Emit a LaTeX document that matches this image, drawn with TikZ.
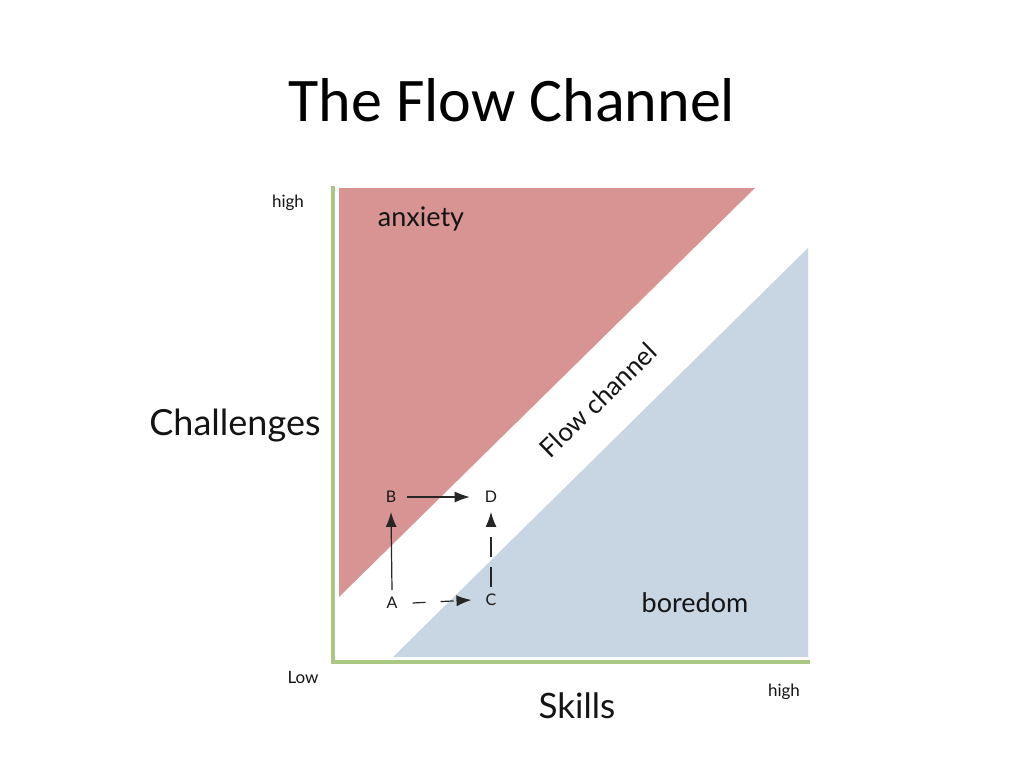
\documentclass[tikz,border=0pt]{standalone}
\usepackage{fontspec}
\setmainfont{Lato}
\newfontfamily\titlefont{Carlito}
\usetikzlibrary{arrows.meta}
\definecolor{anx}{RGB}{216,148,146}
\definecolor{bor}{RGB}{200,213,227}
\definecolor{axg}{RGB}{170,200,130}
\begin{document}
\begin{tikzpicture}[x=1pt,y=-1pt,
  lbl/.style={inner sep=0pt,text=black!92},
  pt/.style={inner sep=1pt,font=\fontsize{16}{16}\selectfont,text=black!90},
  arr/.style={-{Latex[length=15pt,width=11pt]},line width=1.2pt,black!85},
  axis/.style={axg,line width=4pt}]
\useasboundingbox (0,0) rectangle (1024,768);
\fill[white] (0,0) rectangle (1024,768);
\node[inner sep=0pt,font=\titlefont\fontsize{62}{62}\selectfont] (title) at (512,100) {The Flow Channel};
% regions
\fill[anx] (339,188) -- (755,188) -- (339,597) -- cycle;
\fill[bor] (808,248) -- (808,657) -- (393,657) -- cycle;
% axes
\coordinate (o) at (333,662);
\coordinate (ytop) at (333,186);
\coordinate (xend) at (810,662);
\draw[axis] (ytop) -- (o) -- (xend);
% labels
\node[lbl,font=\fontsize{17}{17}\selectfont] (hy) at (288,203) {high};
\node[lbl,font=\fontsize{17}{17}\selectfont] (lo) at (303,677) {Low};
\node[lbl,font=\fontsize{17}{17}\selectfont] (hx) at (784,692) {high};
\node[lbl,font=\fontsize{36}{36}\selectfont] (ch) at (235,426) {Challenges};
\node[lbl,font=\fontsize{35}{35}\selectfont] (sk) at (577,706) {Skills};
\node[lbl,font=\fontsize{27}{27}\selectfont] (anxiety) at (421,219) {anxiety};
\node[lbl,font=\fontsize{27}{27}\selectfont] (boredom) at (695,603) {boredom};
\node[lbl,font=\fontsize{26}{26}\selectfont,rotate=44] (flow) at (598,400) {Flow channel};
% ABCD
\node[pt] (A) at (392,603) {A};
\node[pt] (B) at (391,497) {B};
\node[pt] (C) at (491,600) {C};
\node[pt] (D) at (491,497) {D};
\draw[arr] ([yshift=6pt]A.north) -- ([yshift=-8pt]B.south);
\draw[arr] ([xshift=10pt]B.east) -- ([xshift=-14pt]D.west);
\draw[arr,dash pattern=on 13pt off 15pt] ([xshift=14pt]A.east) -- ([xshift=-13pt]C.west);
\draw[arr,dash pattern=on 20pt off 10pt] ([yshift=6pt]C.north) -- ([yshift=-8pt]D.south);
\end{tikzpicture}
\end{document}
